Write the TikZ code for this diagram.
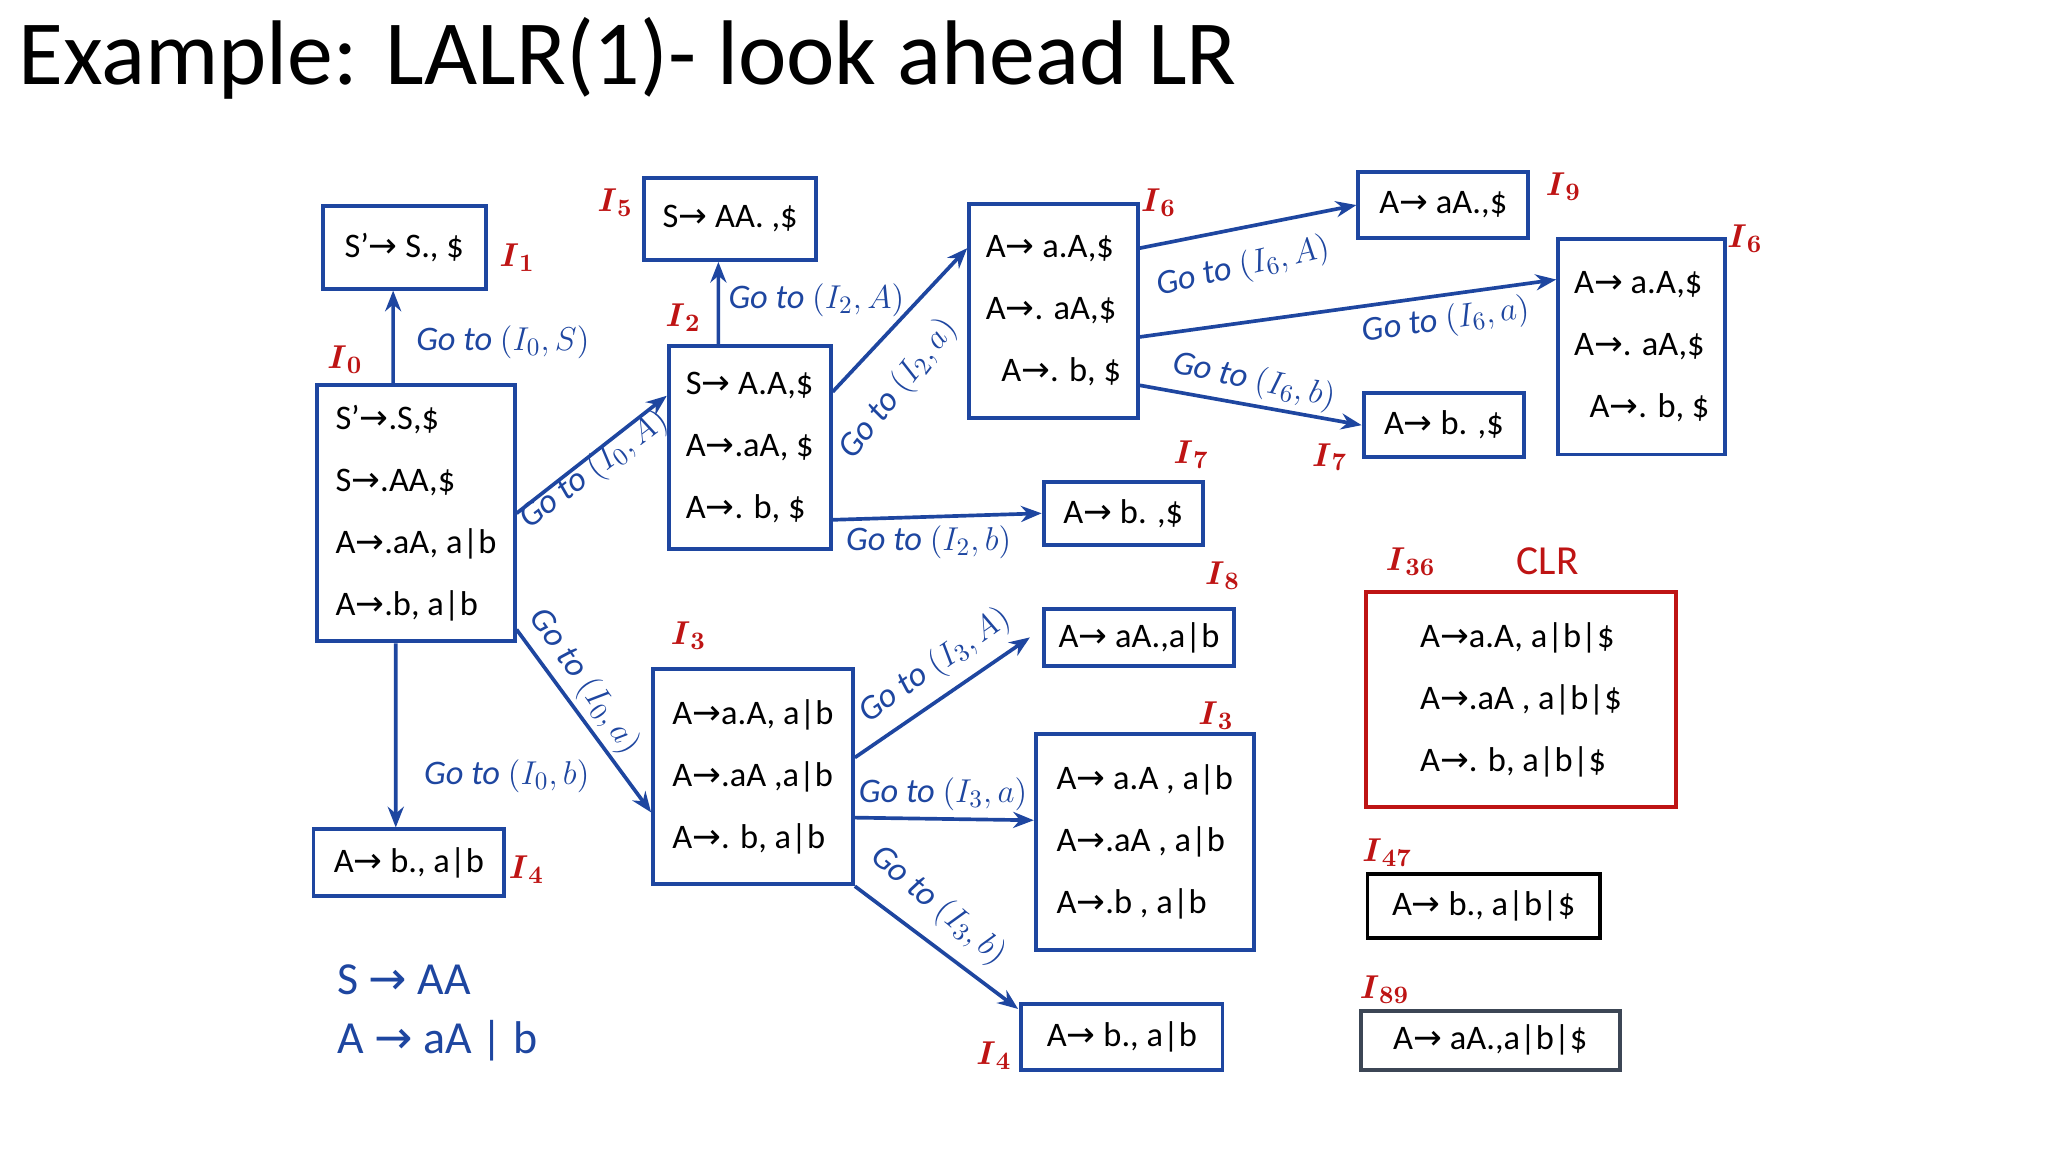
\documentclass[tikz,border=0pt]{standalone}
\usepackage{amsmath}
\usepackage{fontspec}
\setmainfont{Carlito}
\newfontfamily\dejavu{DejaVu Sans}
\newcommand\rarr{{\dejavu →}}
\usetikzlibrary{arrows.meta}
\definecolor{bl}{RGB}{30,70,160}
\definecolor{rd}{RGB}{190,20,20}
\definecolor{gr}{RGB}{60,70,85}
\tikzset{
 box/.style={draw=bl,line width=1.7pt,inner sep=0pt,align=left,font=\fontsize{15}{27}\selectfont},
 go/.style={draw=bl,line width=1.6pt,-{Stealth[length=9pt,width=7pt]}},
 lab/.style={text=bl,font=\fontsize{15}{18}\selectfont},
 tag/.style={text=rd,font=\fontsize{15}{18}\selectfont},
}
\newcommand\lb[1]{\textit{Go to} $(#1)$}
\newcommand\tg[2]{$\boldsymbol{I}_{\boldsymbol{#2}}$}
\begin{document}
\begin{tikzpicture}[x=0.02cm,y=-0.02cm]
\useasboundingbox (0,0) rectangle (1568,882);
\node[anchor=west,font=\fontsize{40}{46}\selectfont] (title) at (8,45) {Example: LALR(1)- look ahead LR};
% boxes
\node[box,minimum width=125*0.02cm,minimum height=63*0.02cm] (I1) at (309.5,189.5) {S’\rarr\ S., \$};
\node[box,minimum width=132*0.02cm,minimum height=63*0.02cm] (I5) at (559,167.5) {S\rarr\ AA. ,\$};
\node[box,minimum width=151*0.02cm,minimum height=196*0.02cm] (I0) at (318.5,393) {S’\rarr.S,\$\\S\rarr.AA,\$\\A\rarr.aA, a|b\\A\rarr.b, a|b};
\node[box,minimum width=124*0.02cm,minimum height=155*0.02cm] (I2) at (574,342.5) {S\rarr\ A.A,\$\\A\rarr.aA, \$\\A\rarr. b, \$};
\node[box,minimum width=129*0.02cm,minimum height=164*0.02cm] (I6) at (806.5,238) {A\rarr\ a.A,\$\\A\rarr. aA,\$\\\ \ A\rarr. b, \$};
\node[box,minimum width=130*0.02cm,minimum height=50*0.02cm] (I9) at (1105,157) {A\rarr\ aA.,\$};
\node[box,minimum width=128*0.02cm,minimum height=165*0.02cm] (I6r) at (1257,265.5) {A\rarr\ a.A,\$\\A\rarr. aA,\$\\\ \ A\rarr. b, \$};
\node[box,minimum width=123*0.02cm,minimum height=49*0.02cm] (I7t) at (1105.5,325.5) {A\rarr\ b. ,\$};
\node[box,minimum width=122*0.02cm,minimum height=48*0.02cm] (I7) at (860,393) {A\rarr\ b. ,\$};
\node[box,minimum width=146*0.02cm,minimum height=44*0.02cm] (I8) at (872,488) {A\rarr\ aA.,a|b};
\node[box,minimum width=153*0.02cm,minimum height=165*0.02cm] (I3) at (576.5,594.5) {A\rarr a.A, a|b\\A\rarr.aA ,a|b\\A\rarr. b, a|b};
\node[box,minimum width=167*0.02cm,minimum height=165*0.02cm] (I3r) at (876.5,644.5) {A\rarr\ a.A , a|b\\A\rarr.aA , a|b\\A\rarr.b , a|b};
\node[box,minimum width=146*0.02cm,minimum height=51*0.02cm] (I4) at (313,660.5) {A\rarr\ b., a|b};
\node[box,minimum width=154*0.02cm,minimum height=50*0.02cm] (I4r) at (859,794) {A\rarr\ b., a|b};
\node[box,draw=rd,minimum width=237*0.02cm,minimum height=165*0.02cm] (CLR) at (1164.5,535.5) {A\rarr a.A, a|b|\$\hspace{1.2cm}\\A\rarr.aA , a|b|\$\\A\rarr. b, a|b|\$};
\node[box,draw=black,minimum width=178*0.02cm,minimum height=49*0.02cm] (I47) at (1136,693.5) {A\rarr\ b., a|b|\$};
\node[box,draw=gr,minimum width=198*0.02cm,minimum height=45*0.02cm] (I89) at (1141,796.5) {A\rarr\ aA.,a|b|\$};
% connectors
\draw[go] ([xshift=-0.35cm]I0.north) -- ([xshift=-0.17cm]I1.south);
\draw[go] (I0.east) -- ([yshift=0.79cm]I2.west);
\draw[go] ([yshift=-1.78cm]I0.east) -- ([yshift=-0.55cm]I3.west);
\draw[go] ([xshift=-0.31cm]I0.south) -- ([xshift=-0.2cm]I4.north);
\draw[go] ([xshift=-0.48cm]I2.north) -- ([xshift=-0.18cm]I5.south);
\draw[go] ([yshift=0.85cm]I2.east) -- ([yshift=0.96cm]I6.west);
\draw[go] ([yshift=-1.11cm]I2.east) -- (I7.west);
\draw[go] ([yshift=0.96cm]I6.east) -- (I9.west);
\draw[go] ([yshift=-0.4cm]I6.east) -- ([yshift=1.03cm]I6r.west);
\draw[go] ([yshift=-1.14cm]I6.east) -- (I7t.west);
\draw[go] ([yshift=0.29cm]I3.east) -- ([xshift=-0.18cm]I8.west);
\draw[go] ([yshift=-0.63cm]I3.east) -- ([yshift=0.33cm]I3r.west);
\draw[go] (I3.south east) -- ([xshift=-0.02cm,yshift=-0.1cm]I4r.north west);
% connector labels
\node[lab] (l1) at (385,262) {\lb{I_0,S}};
\node[lab,rotate=37] (l2) at (455,360) {\lb{I_0,A}};
\node[lab,rotate=-55] (l3) at (447,522) {\lb{I_0,a}};
\node[lab] (l4) at (388,594) {\lb{I_0,b}};
\node[lab] (l5) at (625,230) {\lb{I_2,A}};
\node[lab,rotate=52] (l6) at (688,298) {\lb{I_2,a}};
\node[lab] (l7) at (711,415) {\lb{I_2,b}};
\node[lab,rotate=13] (l8) at (952,205) {\lb{I_6,A}};
\node[lab,rotate=8] (l9) at (1107,246) {\lb{I_6,a}};
\node[lab,rotate=-12] (l10) at (960,292) {\lb{I_6,b}};
\node[lab,rotate=35] (l11) at (716,510) {\lb{I_3,A}};
\node[lab] (l12) at (722,608) {\lb{I_3,a}};
\node[lab,rotate=-40] (l13) at (718,694) {\lb{I_3,b}};
% red tags
\node[tag] (t1) at (396,197) {\tg{}{1}};
\node[tag] (t5) at (471,155) {\tg{}{5}};
\node[tag] (t2) at (523,243) {\tg{}{2}};
\node[tag] (t0) at (264,275) {\tg{}{0}};
\node[tag] (t6) at (887,155) {\tg{}{6}};
\node[tag] (t9) at (1197,143) {\tg{}{9}};
\node[tag] (t6r) at (1336,183) {\tg{}{6}};
\node[tag] (t7t) at (1018,350) {\tg{}{7}};
\node[tag] (t7) at (912,348) {\tg{}{7}};
\node[tag] (t8) at (936,441) {\tg{}{8}};
\node[tag] (t3) at (527,487) {\tg{}{3}};
\node[tag] (t3r) at (931,548) {\tg{}{3}};
\node[tag] (t4) at (403,666) {\tg{}{4}};
\node[tag] (t4r) at (761,808) {\tg{}{4}};
\node[tag] (t36) at (1080,430) {\tg{}{36}};
\node[text=rd,font=\fontsize{18}{20}\selectfont] (clr) at (1185,430) {CLR};
\node[tag] (t47) at (1062,653) {\tg{}{47}};
\node[tag] (t89) at (1060,758) {\tg{}{89}};
% grammar
\node[text=bl,anchor=west,font=\fontsize{20}{24}\selectfont] (g1) at (252,750) {S \rarr\ AA};
\node[text=bl,anchor=west,font=\fontsize{20}{24}\selectfont] (g2) at (252,797) {A \rarr\ aA | b};
\end{tikzpicture}
\end{document}
